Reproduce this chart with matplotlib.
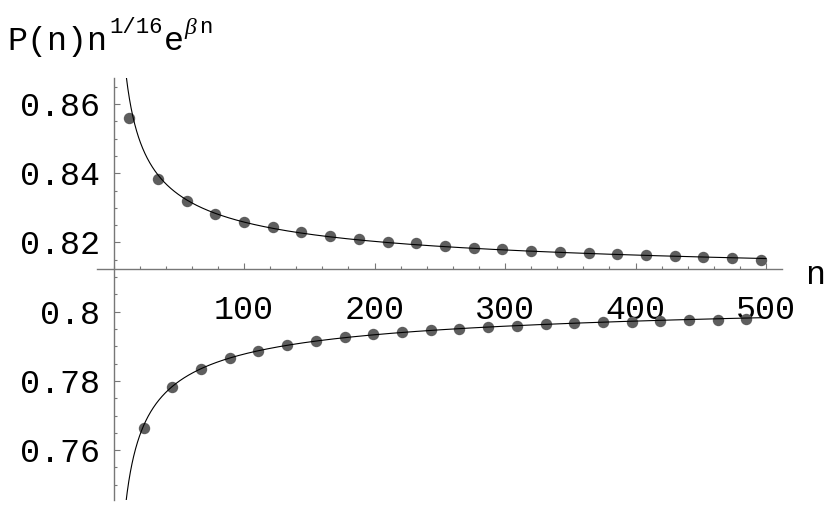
import numpy as np
import matplotlib
matplotlib.use("Agg")
import matplotlib.pyplot as plt
from matplotlib.ticker import MultipleLocator, FixedLocator

# ---- data ----
n_upper = [12, 34, 56, 78, 100, 122, 144, 166, 188, 210, 232, 254, 276, 298,
           320, 342, 364, 386, 408, 430, 452, 474, 496]
p_upper = [0.8560, 0.8382, 0.8320, 0.8283, 0.8259, 0.8244, 0.8230, 0.8220,
           0.8210, 0.8202, 0.8197, 0.8190, 0.8185, 0.8180, 0.8176, 0.8173,
           0.8170, 0.8167, 0.8163, 0.8160, 0.8158, 0.8155, 0.8150]
n_lower = [23, 45, 67, 89, 111, 133, 155, 177, 199, 221, 243, 265, 287, 309,
           331, 353, 375, 397, 419, 441, 463, 485]
p_lower = [0.7663, 0.7781, 0.7834, 0.7865, 0.7887, 0.7904, 0.7916, 0.7926,
           0.7935, 0.7940, 0.7946, 0.7951, 0.7957, 0.7960, 0.7964, 0.7967,
           0.7969, 0.7971, 0.7973, 0.7975, 0.7977, 0.7978]
x_ticks = [100, 200, 300, 400, 500]
y_ticks = [0.76, 0.78, 0.80, 0.82, 0.84, 0.86]
y_tick_labels = ["0.76", "0.78", "0.8", "0.82", "0.84", "0.86"]
axis_cross = 0.8124

# ---- asymptotic fit  A +/- B / sqrt(n)  to the points (n >= 30) ----
nu = np.array(n_upper, float); pu = np.array(p_upper)
nl = np.array(n_lower, float); pl = np.array(p_lower)
n_all = np.concatenate([nu, nl]); p_all = np.concatenate([pu, pl])
s_all = np.concatenate([np.ones_like(nu), -np.ones_like(nl)])
m = n_all >= 30
M = np.column_stack([np.ones(m.sum()), s_all[m] / np.sqrt(n_all[m])])
(A, B), *_ = np.linalg.lstsq(M, p_all[m], rcond=None)

nn = np.linspace(5, 500, 2000)
cu = A + B / np.sqrt(nn)
cl = A - B / np.sqrt(nn)

mono = "Liberation Mono"
plt.rcParams['font.family'] = [mono, 'DejaVu Sans Mono']

W, H = 830, 513
fig = plt.figure(figsize=(8.3, 5.13), dpi=100)
ax = fig.add_axes([96.6 / W, 1 - 500 / H, (781.7 - 96.6) / W, (500 - 78) / H])
ax.set_xlim(-13, 512)
ax.set_ylim(0.7456, 0.8675)

ax.plot(n_upper, p_upper, 'o', color='#5e5e5e', markersize=8.2, markeredgewidth=0, zorder=2)
ax.plot(n_lower, p_lower, 'o', color='#5e5e5e', markersize=8.2, markeredgewidth=0, zorder=2)
ax.plot(nn, cu, color='black', lw=0.8, zorder=3)
ax.plot(nn, cl, color='black', lw=0.8, zorder=3)

for s in ['top', 'right']:
    ax.spines[s].set_visible(False)
ax.spines['left'].set_position(('data', 0))
ax.spines['bottom'].set_position(('data', axis_cross))
for s in ['left', 'bottom']:
    ax.spines[s].set_color('#777777')
    ax.spines[s].set_linewidth(1.0)

ax.xaxis.set_major_locator(FixedLocator(x_ticks))
ax.xaxis.set_minor_locator(MultipleLocator(20))
ax.yaxis.set_major_locator(FixedLocator(y_ticks))
ax.yaxis.set_minor_locator(MultipleLocator(0.005))
ax.set_yticklabels(y_tick_labels)
ax.set_xticklabels([str(v) for v in x_ticks])

ax.tick_params(axis='both', which='both', direction='in', color='#777777', width=0.8)
ax.tick_params(axis='both', which='major', length=4.5, labelsize=24)
ax.tick_params(axis='both', which='minor', length=2.5)
ax.tick_params(axis='x', which='major', pad=19)
ax.tick_params(axis='y', which='major', pad=10)

# y-axis label built from pieces:  P(n) n^{1/16} e^{beta n}
def put(x, y, s, size, **kw):
    fig.text(x / W, 1 - y / H, s, fontsize=size, ha='left', va='baseline', **kw)

put(7, 50, 'P(n)n', 24)
put(109, 33, '1/16', 16)
put(164, 50, 'e', 24)
put(184, 34, '\u03b2', 17, family='Liberation Serif', style='italic')
put(199, 33, 'n', 16)

fig.text(815 / W, 1 - 275 / H, 'n', fontsize=24, ha='center', va='center')

fig.savefig('out.png', dpi=100)
